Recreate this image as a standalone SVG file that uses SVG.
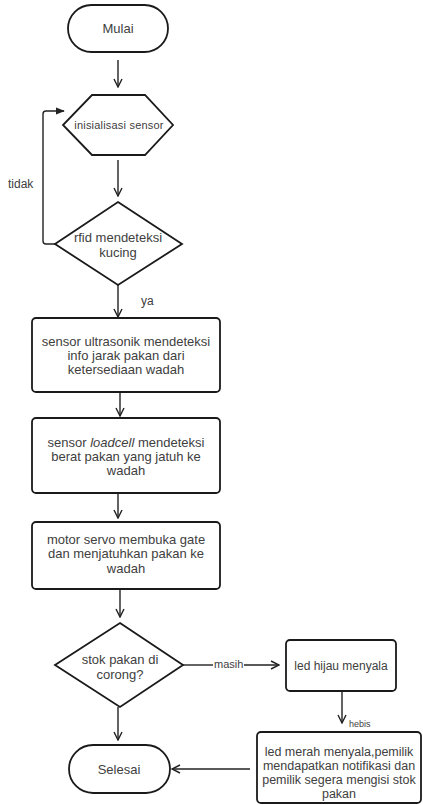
<svg xmlns="http://www.w3.org/2000/svg" width="423" height="805" viewBox="0 0 423 805">
<style>
.shape{fill:#fff;stroke:#1a1a1a;stroke-width:1.8}
.t{font-family:"Liberation Sans",Arial,sans-serif;font-size:13px;fill:#404040;text-anchor:middle}
.lbl{font-family:"Liberation Sans",Arial,sans-serif;fill:#404040}
.c{fill:none;stroke:#222;stroke-width:1.4}
</style>
<defs>
<marker id="open" viewBox="0 0 10 10" refX="9" refY="5" markerWidth="10" markerHeight="10" markerUnits="userSpaceOnUse" orient="auto">
<path d="M1,1 L9,5 L1,9" fill="none" stroke="#222" stroke-width="1.4"/>
</marker>
<marker id="solid" viewBox="0 0 10 10" refX="9" refY="5" markerWidth="9" markerHeight="9" markerUnits="userSpaceOnUse" orient="auto">
<path d="M0,1 L10,5 L0,9 Z" fill="#222"/>
</marker>
</defs>
<rect width="423" height="805" fill="#fff"/>
<g id="connectors">
<line class="c" x1="118" y1="60" x2="118" y2="87" marker-end="url(#open)"/>
<line class="c" x1="118" y1="160" x2="118" y2="196" marker-end="url(#open)"/>
<path class="c" d="M55,244 H46 Q43,244 43,241 V114 Q43,111 46,111 H64" marker-end="url(#solid)"/>
<text class="lbl" x="8" y="188" font-size="12">tidak</text>
<line class="c" x1="118" y1="285" x2="118" y2="317" marker-end="url(#open)"/>
<text class="lbl" x="141" y="305" font-size="12">ya</text>
<line class="c" x1="120" y1="392" x2="120" y2="416" marker-end="url(#open)"/>
<line class="c" x1="118" y1="493" x2="118" y2="518" marker-end="url(#open)"/>
<line class="c" x1="120" y1="589" x2="120" y2="617" marker-end="url(#open)"/>
<line class="c" x1="183" y1="665" x2="213" y2="665"/>
<text class="lbl" x="214" y="668" font-size="11">masih</text>
<line class="c" x1="244" y1="665" x2="279" y2="665" marker-end="url(#open)"/>
<line class="c" x1="342" y1="691" x2="342" y2="723" marker-end="url(#open)"/>
<text class="lbl" x="349" y="727" font-size="9">hebis</text>
<line class="c" x1="118" y1="707" x2="118" y2="740" marker-end="url(#open)"/>
<line class="c" x1="250" y1="769" x2="172" y2="769" marker-end="url(#open)"/>
</g>
<g id="mulai">
<rect class="shape" x="68" y="5" width="100" height="47" rx="23.5"/>
<text class="t" x="118" y="33">Mulai</text>
</g>
<g id="inisialisasi">
<polygon class="shape" points="92,95 145,95 173,125 145,155 92,155 63,125"/>
<text class="t" x="119" y="129" style="font-size:11px;letter-spacing:0.2px">inisialisasi sensor</text>
</g>
<g id="rfid">
<polygon class="shape" points="118,202 182,244 118,285 55,244"/>
<text class="t" x="118" y="242">rfid mendeteksi</text>
<text class="t" x="118" y="257">kucing</text>
</g>
<g id="ultrasonik">
<rect class="shape" x="32" y="318" width="188" height="74" rx="4"/>
<text class="t" x="126" y="346">sensor ultrasonik mendeteksi</text>
<text class="t" x="126" y="360">info jarak pakan dari</text>
<text class="t" x="126" y="374">ketersediaan wadah</text>
</g>
<g id="loadcell">
<rect class="shape" x="32" y="418" width="188" height="75" rx="4"/>
<text class="t" x="126" y="447">sensor <tspan font-style="italic">loadcell</tspan> mendeteksi</text>
<text class="t" x="126" y="461">berat pakan yang jatuh ke</text>
<text class="t" x="126" y="475">wadah</text>
</g>
<g id="servo">
<rect class="shape" x="32" y="522" width="188" height="67" rx="4"/>
<text class="t" x="126" y="544">motor servo membuka gate</text>
<text class="t" x="126" y="558">dan menjatuhkan pakan ke</text>
<text class="t" x="126" y="573">wadah</text>
</g>
<g id="stok">
<polygon class="shape" points="120,623 183,665 120,707 55,665"/>
<text class="t" x="120" y="664">stok pakan di</text>
<text class="t" x="120" y="679">corong?</text>
</g>
<g id="hijau">
<rect class="shape" x="286" y="640" width="110" height="51" rx="4"/>
<text class="t" x="341" y="670" style="font-size:12px">led hijau menyala</text>
</g>
<g id="merah">
<rect class="shape" x="257" y="732" width="164" height="71" rx="4"/>
<text class="t" x="339" y="756" style="font-size:12.5px">led merah menyala,pemilik</text>
<text class="t" x="339" y="770" style="font-size:12.5px">mendapatkan notifikasi dan</text>
<text class="t" x="339" y="784" style="font-size:12.5px">pemilik segera mengisi stok</text>
<text class="t" x="339" y="798" style="font-size:12.5px">pakan</text>
</g>
<g id="selesai">
<rect class="shape" x="69" y="745" width="101" height="48" rx="24"/>
<text class="t" x="119" y="774">Selesai</text>
</g>
</svg>
